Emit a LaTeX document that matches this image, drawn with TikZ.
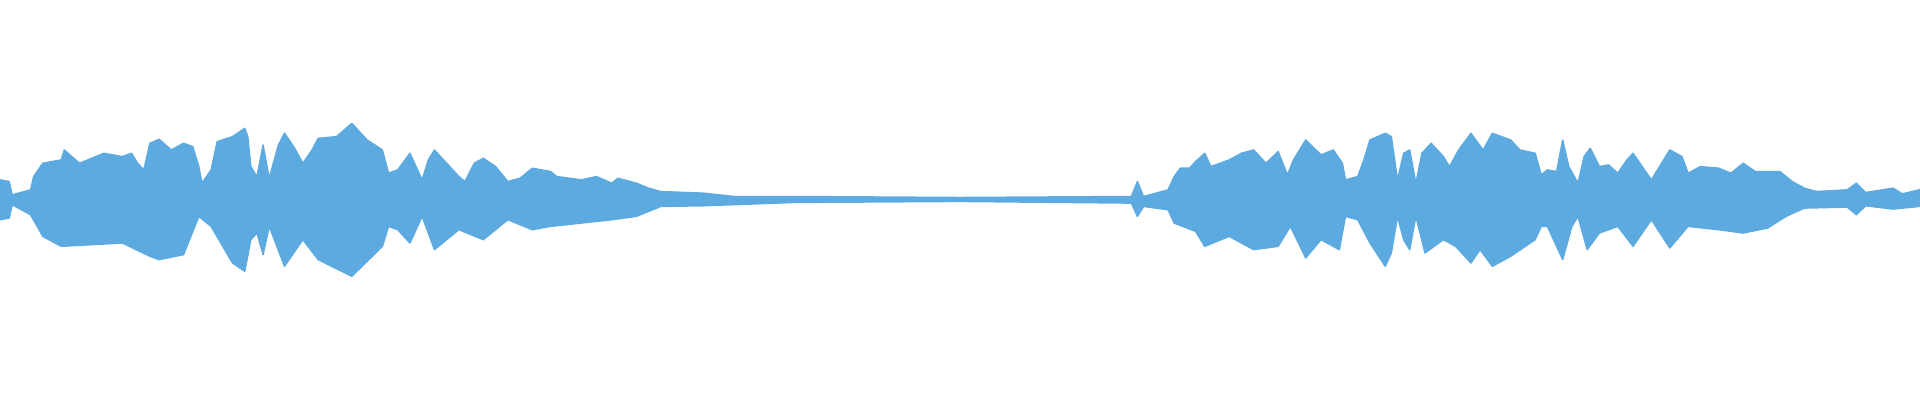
\documentclass[tikz,border=0pt]{standalone}
\usepackage{tikz}
\definecolor{wave}{HTML}{5DAAE0}
\tikzset{envelope/.style={fill=wave, draw=wave, line width=0.4pt, line join=round}}
\begin{document}
\begin{tikzpicture}
                % Frame
                \useasboundingbox (0,0) rectangle (19.2,-4);
                
                % First half of the signal
                \begin{scope}[shift={(0,-1)}, x=0.006122cm, y=-0.003333cm]
                \draw[envelope] plot coordinates {
                  (0,240) (15,245) (20,285) (50,270) (55,230) (70,190) (100,180) (105,150)
                  (130,190) (170,160) (200,170) (215,160) (225,190) (235,210) (245,130)
                  (260,118) (280,150) (300,130) (315,140) (325,200) (330,250) (345,210)
                  (355,125) (380,110) (400,85) (405,110) (410,200) (420,230) (430,135)
                  (440,235) (455,135) (465,100) (480,140) (495,190) (510,150) (520,115)
                  (550,110) (575,70) (600,120) (625,150) (635,220) (650,210) (670,160)
                  (690,240) (700,180) (710,150) (730,190) (750,230) (760,245) (775,190)
                  (790,175) (810,200) (830,245) (850,235) (870,205) (900,215) (910,230)
                  (950,240) (975,230) (1000,250) (1010,235) (1040,250) (1060,265) (1080,275)
                  (1150,280) (1200,290) (1300,290) (1568,293)}
                  -- plot coordinates {
                  (1568,305) (1300,308) (1150,318) (1080,320) (1040,350) (1000,360)
                  (950,370) (900,380) (870,390) (830,360) (790,420) (750,390) (710,450)
                  (690,350) (670,430) (650,390) (635,380) (625,440) (575,530) (520,480)
                  (495,420) (465,500) (440,380) (430,465) (420,400) (410,420) (400,515)
                  (380,490) (345,380) (325,350) (300,465) (260,480) (245,470) (200,430)
                  (100,440) (70,410) (50,345) (20,315) (15,355) (0,360)} -- cycle;
                \end{scope}
                
                % Second half of the signal
                \begin{scope}[shift={(9.6,-1)}, x=0.006122cm, y=-0.003333cm]
                \draw[envelope] plot coordinates {
                  (0,293) (280,290) (290,245) (300,290) (340,270) (350,230) (360,205)
                  (375,205) (385,185) (400,160) (410,200) (440,180) (460,160) (480,150)
                  (500,190) (520,155) (535,225) (545,180) (565,120) (590,165) (610,150)
                  (625,190) (630,240) (650,230) (660,180) (670,120) (695,100) (705,110)
                  (715,240) (725,160) (735,150) (745,250) (755,160) (770,130) (790,170)
                  (800,200) (815,150) (835,100) (855,150) (870,100) (900,120) (915,150)
                  (940,160) (950,225) (960,210) (975,215) (985,120) (995,200) (1010,250)
                  (1020,170) (1030,145) (1045,200) (1060,195) (1075,220) (1090,180)
                  (1100,160) (1115,200) (1130,240) (1140,210) (1160,150) (1180,170)
                  (1190,220) (1210,200) (1240,205) (1260,220) (1280,190) (1300,215)
                  (1340,215) (1360,245) (1380,265) (1400,275) (1450,270) (1465,250)
                  (1480,278) (1525,265) (1540,282) (1568,270)}
                  -- plot coordinates {
                  (1568,320) (1525,328) (1480,318) (1465,345) (1450,322) (1380,325)
                  (1350,350) (1320,385) (1280,400) (1240,390) (1190,380) (1160,445)
                  (1130,360) (1100,440) (1075,380) (1045,400) (1025,450) (1010,350)
                  (1000,380) (985,480) (960,380) (950,380) (940,420) (900,470) (870,500)
                  (850,450) (835,490) (810,440) (790,420) (760,460) (745,350) (735,450)
                  (725,420) (715,350) (705,460) (695,500) (670,430) (650,360) (630,350)
                  (620,450) (590,420) (565,475) (540,380) (520,440) (480,450) (440,410)
                  (400,440) (385,395) (350,370) (340,330) (300,320) (290,350) (280,310)
                  (0,305)} -- cycle;
                \end{scope}
\end{tikzpicture}
\end{document}
